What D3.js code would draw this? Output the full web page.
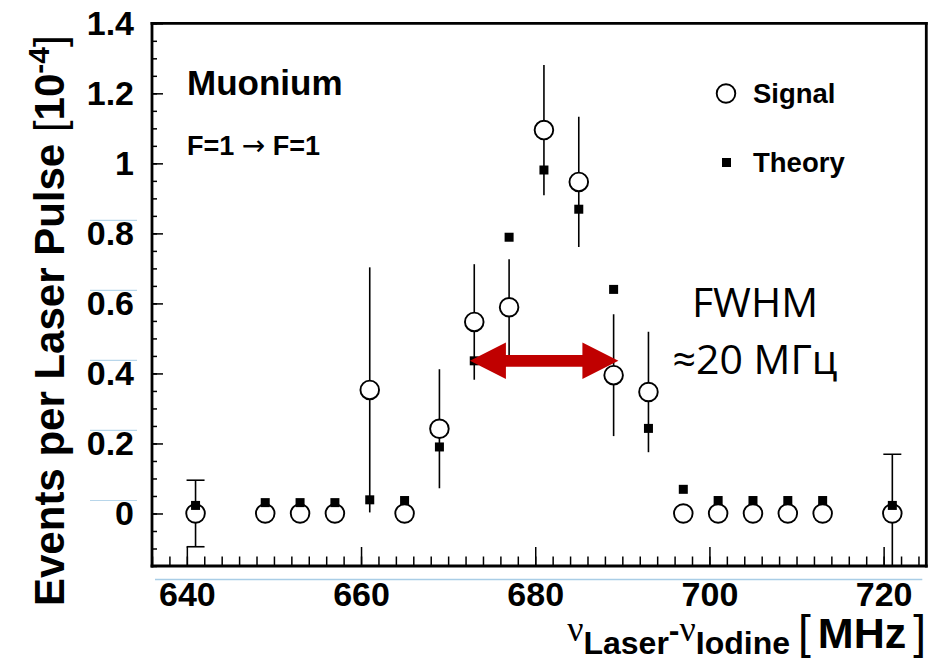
<!DOCTYPE html>
<html>
<head>
<meta charset="utf-8">
<script src="https://cdn.jsdelivr.net/npm/d3@7"></script>
<style>
  body { margin: 0; background: #fff; }
  svg { display: block; }
</style>
</head>
<body>
<svg id="chart" width="928" height="662"></svg>
<script>
// MARK: - Data

const frequencies = [641, 649, 653, 657, 661, 665, 669, 673, 677, 681, 685, 689, 693, 697, 701, 705, 709, 713, 721];
const signalValues = [0, 0, 0, 0, 0.353, 0, 0.242, 0.547, 0.589, 1.095, 0.947, 0.395, 0.347, 0, 0, 0, 0, 0, 0];
const signalErrors = [0.095, 0, 0, 0, 0.35, 0, 0.17, 0.165, 0.137, 0.186, 0.186, 0.174, 0.172, 0, 0, 0, 0, 0, 0.169];
const signalCapped = [true, false, false, false, false, false, false, false, false, false, false, false, false, false, false, false, false, false, true];
const theoryValues = [0.023, 0.031, 0.031, 0.031, 0.039, 0.037, 0.19, 0.436, 0.789, 0.981, 0.869, 0.64, 0.243, 0.069, 0.037, 0.037, 0.037, 0.037, 0.023];

const xTickValues = [640, 660, 680, 700, 720];
const xTickLabels = ['640', '660', '680', '700', '720'];
const yTickValues = [0, 0.2, 0.4, 0.6, 0.8, 1, 1.2, 1.4];
const yTickLabels = ['0', '0.2', '0.4', '0.6', '0.8', '1', '1.2', '1.4'];

// the red FWHM arrow, in data units
const fwhmFrom = 672.5;
const fwhmTo = 689.55;
const fwhmLevel = 0.436;

// MARK: - Setup

const rootFont = '"Liberation Sans", Arial, Helvetica, sans-serif';
const greekFont = '"Liberation Serif", "DejaVu Serif", serif';
const officeFont = '"Open Sans", "Noto Sans", sans-serif';

const svg = d3.select('#chart');
svg.append('rect').attr('width', 928).attr('height', 662).attr('fill', '#fff');

const x = d3.scaleLinear().domain([636, 724.9]).range([152, 926.3]);
const y = d3.scaleLinear().domain([-0.15, 1.4]).range([566, 23.3]);

const [frameLeft, frameRight] = x.range();
const [frameBottom, frameTop] = y.range();

// faint blue scan lines from the source picture
svg.append('line')
  .attr('x1', frameLeft + 3).attr('x2', frameRight - 4)
  .attr('y1', frameBottom + 13.5).attr('y2', frameBottom + 13.5)
  .attr('stroke', '#a9cde6').attr('stroke-width', 1.3);
svg.append('g').selectAll('line')
  .data(yTickValues.filter(d => d <= 0.8))
  .join('line')
  .attr('x1', 90).attr('x2', 137)
  .attr('y1', d => y(d) - 13).attr('y2', d => y(d) - 13)
  .attr('stroke', '#b8d6ea').attr('stroke-width', 1.2);

// MARK: - Axes

function styleAxis(g) {
  g.select('.domain').remove();
  g.selectAll('.tick line').attr('stroke', '#000').attr('stroke-width', 1.5);
  g.selectAll('.tick text')
    .attr('fill', '#000')
    .style('font-family', rootFont)
    .style('font-weight', 'bold')
    .style('font-size', '34px');
}

svg.append('g')
  .attr('transform', `translate(0,${frameBottom})`)
  .call(d3.axisBottom(x).tickValues(d3.range(636, 725, 2)).tickSize(-9.5).tickFormat(''))
  .call(styleAxis);

svg.append('g')
  .attr('transform', `translate(0,${frameBottom})`)
  .call(d3.axisBottom(x).tickValues(xTickValues).tickSize(-19).tickPadding(16)
    .tickFormat((d, i) => xTickLabels[i]))
  .call(styleAxis);

svg.append('g')
  .attr('transform', `translate(${frameLeft},0)`)
  .call(d3.axisLeft(y).tickValues(d3.range(-0.15, 1.4001, 0.05)).tickSize(-5).tickFormat(''))
  .call(styleAxis);

svg.append('g')
  .attr('transform', `translate(${frameLeft},0)`)
  .call(d3.axisLeft(y).tickValues(yTickValues).tickSize(-11).tickPadding(18)
    .tickFormat((d, i) => yTickLabels[i]))
  .call(styleAxis);

// MARK: - Marks

svg.append('clipPath').attr('id', 'frame-clip')
  .append('rect')
  .attr('x', frameLeft).attr('y', frameTop)
  .attr('width', frameRight - frameLeft).attr('height', frameBottom - frameTop);

const points = frequencies.map((f, i) => ({
  f,
  value: signalValues[i],
  error: signalErrors[i],
  capped: signalCapped[i],
  theory: theoryValues[i]
}));

const plot = svg.append('g').attr('clip-path', 'url(#frame-clip)');

const bars = plot.append('g').attr('stroke', '#000').attr('stroke-width', 1.6);
bars.selectAll('line.err')
  .data(points.filter(d => d.error > 0))
  .join('line')
  .attr('class', 'err')
  .attr('x1', d => x(d.f)).attr('x2', d => x(d.f))
  .attr('y1', d => y(d.value + d.error))
  .attr('y2', d => y(d.value - d.error));

const capHalf = 9;
const capped = points.filter(d => d.capped);
bars.selectAll('line.cap-hi')
  .data(capped)
  .join('line')
  .attr('class', 'cap-hi')
  .attr('x1', d => x(d.f) - capHalf).attr('x2', d => x(d.f) + capHalf)
  .attr('y1', d => y(d.value + d.error)).attr('y2', d => y(d.value + d.error));
bars.selectAll('line.cap-lo')
  .data(capped)
  .join('line')
  .attr('class', 'cap-lo')
  .attr('x1', d => x(d.f) - capHalf).attr('x2', d => x(d.f) + capHalf)
  .attr('y1', d => y(d.value - d.error)).attr('y2', d => y(d.value - d.error));

const circleRadius = 9.3;
plot.append('g').selectAll('circle')
  .data(points)
  .join('circle')
  .attr('cx', d => x(d.f))
  .attr('cy', d => y(d.value))
  .attr('r', circleRadius)
  .attr('fill', '#fff')
  .attr('stroke', '#000')
  .attr('stroke-width', 1.9);

const squareSize = 9;
plot.append('g').selectAll('rect')
  .data(points)
  .join('rect')
  .attr('x', d => x(d.f) - squareSize / 2)
  .attr('y', d => y(d.theory) - squareSize / 2)
  .attr('width', squareSize)
  .attr('height', squareSize)
  .attr('fill', '#000');

// MARK: - FWHM arrow

(function drawArrow() {
  const x0 = x(fwhmFrom), x1 = x(fwhmTo), yc = y(fwhmLevel);
  const head = 36, headHalf = 18.3, shaftHalf = 5.9;
  const path = d3.path();
  path.moveTo(x0, yc);
  path.lineTo(x0 + head, yc - headHalf);
  path.lineTo(x0 + head, yc - shaftHalf);
  path.lineTo(x1 - head, yc - shaftHalf);
  path.lineTo(x1 - head, yc - headHalf);
  path.lineTo(x1, yc);
  path.lineTo(x1 - head, yc + headHalf);
  path.lineTo(x1 - head, yc + shaftHalf);
  path.lineTo(x0 + head, yc + shaftHalf);
  path.lineTo(x0 + head, yc + headHalf);
  path.closePath();
  svg.append('path').attr('d', path.toString()).attr('fill', '#c00000');
})();

svg.append('text')
  .attr('x', 755).attr('y', 317)
  .attr('text-anchor', 'middle')
  .style('font-family', officeFont).style('font-size', '41px')
  .text('FWHM');
svg.append('text')
  .attr('x', 755).attr('y', 373.5)
  .attr('text-anchor', 'middle')
  .style('font-family', officeFont).style('font-size', '41px')
  .text('≈20 МГц');

// MARK: - Labels

svg.append('text')
  .attr('x', 187).attr('y', 95)
  .style('font-family', rootFont).style('font-weight', 'bold').style('font-size', '35px')
  .text('Muonium');

const transition = svg.append('text')
  .attr('x', 187).attr('y', 155)
  .style('font-family', rootFont).style('font-weight', 'bold').style('font-size', '27px');
transition.append('tspan').text('F=1 ');
transition.append('tspan')
  .style('font-family', '"DejaVu Sans", sans-serif')
  .style('font-weight', 'normal')
  .style('font-size', '28px')
  .text('→');
transition.append('tspan').text(' F=1');

// legend
svg.append('circle')
  .attr('cx', 726).attr('cy', 93.5).attr('r', circleRadius)
  .attr('fill', '#fff').attr('stroke', '#000').attr('stroke-width', 1.9);
svg.append('rect')
  .attr('x', 726.5 - squareSize / 2).attr('y', 162.5 - squareSize / 2)
  .attr('width', squareSize).attr('height', squareSize).attr('fill', '#000');
svg.append('text')
  .attr('x', 753).attr('y', 103)
  .style('font-family', rootFont).style('font-weight', 'bold').style('font-size', '27.5px')
  .text('Signal');
svg.append('text')
  .attr('x', 753).attr('y', 172)
  .style('font-family', rootFont).style('font-weight', 'bold').style('font-size', '27.5px')
  .text('Theory');

// y axis title
const yTitle = svg.append('text')
  .attr('transform', 'translate(64,606) rotate(-90)')
  .style('font-family', rootFont).style('font-weight', 'bold').style('font-size', '42px');
yTitle.append('tspan').text('Events per Laser Pulse ');
yTitle.append('tspan').style('font-weight', 'normal').text('[');
yTitle.append('tspan').text('10');
yTitle.append('tspan').attr('dy', -15).style('font-size', '30px').text('-4');
yTitle.append('tspan').attr('dy', 15).style('font-weight', 'normal').text(']');

// x axis title: the frequency difference, then the unit
const xTitle = svg.append('text')
  .attr('x', 790).attr('y', 641)
  .attr('text-anchor', 'end')
  .style('font-family', rootFont).style('font-weight', 'bold');
xTitle.append('tspan').style('font-family', greekFont).style('font-weight', 'normal').style('font-size', '36px').text('ν');
xTitle.append('tspan').attr('dy', 13).style('font-size', '32px').text('Laser');
xTitle.append('tspan').attr('dy', -13).style('font-size', '32px').text('-');
xTitle.append('tspan').style('font-family', greekFont).style('font-weight', 'normal').style('font-size', '36px').text('ν');
xTitle.append('tspan').attr('dy', 13).style('font-size', '32px').text('Iodine');

const unitTitle = svg.append('text')
  .attr('x', 926).attr('y', 648)
  .attr('text-anchor', 'end')
  .style('font-family', rootFont);
unitTitle.append('tspan').style('font-size', '46px').text('[');
unitTitle.append('tspan').attr('dx', 7).style('font-size', '43px').style('font-weight', 'bold').text('MHz');
unitTitle.append('tspan').attr('dx', 7).style('font-size', '46px').text(']');

// frame, drawn last so nothing covers it
const frame = svg.append('g')
  .attr('stroke', '#000')
  .attr('stroke-width', 2.8)
  .attr('stroke-linecap', 'square');
[
  [frameLeft, frameTop, frameRight, frameTop],
  [frameRight, frameTop, frameRight, frameBottom],
  [frameRight, frameBottom, frameLeft, frameBottom],
  [frameLeft, frameBottom, frameLeft, frameTop]
].forEach(([x1, y1, x2, y2]) => {
  frame.append('line').attr('x1', x1).attr('y1', y1).attr('x2', x2).attr('y2', y2);
});
</script>
</body>
</html>
